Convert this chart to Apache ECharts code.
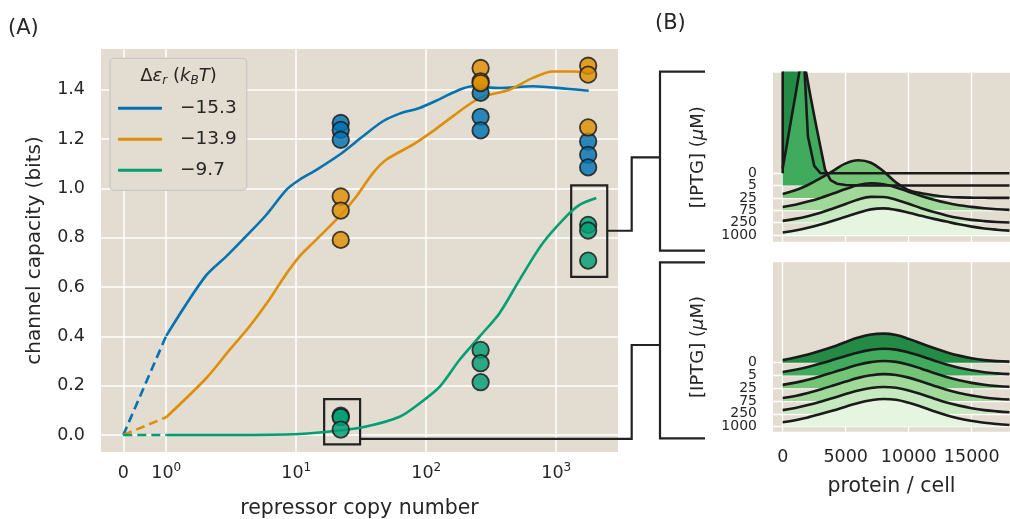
<!DOCTYPE html>
<html>
<head>
<meta charset="utf-8">
<title>channel capacity</title>
<script src="https://cdn.jsdelivr.net/npm/echarts@6/dist/echarts.min.js"></script>
<style>
  html, body { margin: 0; padding: 0; background: #fff; }
  #main { width: 1010px; height: 519px; }
</style>
</head>
<body>
<div id="main"></div>
<script>
// ---- panel A: channel capacity vs repressor copy number ----
const repTicks = [0, 1, 10, 100, 1000]
const repTickLabels = ['{b|0}', '{b|10}{s|0}', '{b|10}{s|1}', '{b|10}{s|2}', '{b|10}{s|3}']
const capTicks = [0, 0.2, 0.4, 0.6, 0.8, 1.0, 1.2, 1.4]
const energies = ['\u221215.3', '\u221213.9', '\u22129.7']

const blueX = [1, 2.0, 2.9, 4.1, 5.9, 8.4, 10.6, 14.3, 21.5, 32.6, 46.4, 62.4, 88.9, 127, 180, 228, 366, 661, 1194, 1776]
const blueY = [0.402, 0.643, 0.724, 0.805, 0.893, 0.994, 1.035, 1.075, 1.136, 1.211, 1.272, 1.303, 1.326, 1.362, 1.400, 1.414, 1.407, 1.414, 1.404, 1.396]
const orangeX = [1, 2.03, 3.07, 4.37, 6.2, 8.1, 10.6, 13.4, 21.5, 29, 38.9, 49.2, 78.9, 112, 160, 257, 437, 661, 942, 1343, 1776]
const orangeY = [0.072, 0.23, 0.345, 0.44, 0.548, 0.642, 0.724, 0.778, 0.886, 0.967, 1.062, 1.116, 1.177, 1.231, 1.292, 1.366, 1.40, 1.448, 1.474, 1.474, 1.468]
const greenX = [1, 3.25, 10.6, 21.5, 34.5, 62.4, 88.9, 127, 180, 257, 366, 522, 789, 1194, 1511, 2032]
const greenY = [0, 0, 0.004, 0.018, 0.034, 0.074, 0.128, 0.196, 0.304, 0.399, 0.494, 0.629, 0.778, 0.886, 0.933, 0.961]

// experimental repressor copy numbers and measured capacities
const sampleX = [22, 262, 1760]
const blueDots = [[1.265, 1.237, 1.197], [1.387, 1.29, 1.235], [1.19, 1.136, 1.085]]
const orangeDots = [[0.967, 0.91, 0.791], [1.488, 1.434, 1.427], [1.497, 1.461, 1.247]]
const greenDots = [[0.078, 0.072, 0.022], [0.345, 0.291, 0.214], [0.852, 0.829, 0.707]]

// highlight boxes (copy number range, capacity range)
const boxes = [[16.4, 31, -0.038, 0.145], [1303, 2467, 0.641, 1.012]]

// ---- panel B: protein distributions per IPTG ----
const iptg = ['0', '5', '25', '75', '250', '1000']
const proteinX = [0, 1000, 2000, 3000, 4000, 5000, 6000, 7000, 8000, 9000, 10000, 11000, 12000, 13000, 14000, 15000, 16000, 17000, 18000]

const top0X = [0, 0, 1300, 1500, 1700, 2000, 2500, 3000, 18000]
const top0Y = [0, 30, 30, 20, 9, 3, 0.6, 0, 0]
const top5X = [0, 330, 660, 990, 1320, 1600, 1850, 2230, 2610, 3000, 3360, 3800, 4300, 5000, 6000, 18000]
const top5Y = [1.4, 3.3, 5.3, 7.2, 9.2, 11, 9.2, 7.1, 5.1, 3.1, 1.3, 0.45, 0.15, 0.05, 0, 0]
const top25 = [0.32, 0.62, 1.05, 1.6, 2.2, 2.8, 3.05, 2.85, 2.15, 1.25, 0.62, 0.38, 0.22, 0.1, 0.04, 0.02, 0.01, 0, 0]
const top75 = [0.27, 0.45, 0.7, 1.0, 1.35, 1.72, 2.05, 2.19, 2.1, 1.85, 1.5, 1.15, 0.85, 0.6, 0.4, 0.27, 0.16, 0.08, 0.03]
const top250 = [0.14, 0.3, 0.52, 0.8, 1.14, 1.5, 1.88, 2.08, 2.07, 1.85, 1.52, 1.17, 0.85, 0.58, 0.37, 0.22, 0.12, 0.05, 0.01]
const top1000 = [0.19, 0.36, 0.58, 0.85, 1.15, 1.48, 1.8, 2.07, 2.15, 2.03, 1.8, 1.55, 1.3, 1.08, 0.86, 0.67, 0.52, 0.42, 0.35]

const bot0 = [0.21, 0.4, 0.64, 0.93, 1.25, 1.62, 1.96, 2.2, 2.27, 2.16, 1.86, 1.5, 1.14, 0.82, 0.55, 0.34, 0.2, 0.12, 0.08]
const bot5 = [0.27, 0.44, 0.66, 0.93, 1.22, 1.52, 1.8, 2.0, 2.09, 2.02, 1.8, 1.5, 1.17, 0.86, 0.6, 0.4, 0.25, 0.16, 0.1]
const bot25 = [0.26, 0.44, 0.67, 0.94, 1.24, 1.55, 1.84, 2.04, 2.13, 2.06, 1.84, 1.53, 1.19, 0.88, 0.62, 0.42, 0.27, 0.17, 0.11]
const bot75 = [0.23, 0.4, 0.63, 0.91, 1.21, 1.52, 1.81, 2.01, 2.1, 2.04, 1.83, 1.53, 1.2, 0.89, 0.63, 0.43, 0.28, 0.18, 0.12]
const bot250 = [0.29, 0.46, 0.68, 0.95, 1.24, 1.54, 1.82, 2.02, 2.1, 2.04, 1.83, 1.53, 1.2, 0.89, 0.64, 0.44, 0.29, 0.19, 0.12]
const bot1000 = [0.34, 0.5, 0.72, 0.98, 1.26, 1.56, 1.85, 2.06, 2.16, 2.1, 1.86, 1.55, 1.2, 0.88, 0.63, 0.45, 0.3, 0.2, 0.13]
const proteinTicks = [0, 5000, 10000, 15000]

const BG = '#e3dcd0'
const INK = '#262626'
const FONT = 'DejaVu Sans'
const colors = ['#0173b2', '#de8f05', '#029e73']
const greens = ['#238b45', '#41ab5d', '#74c476', '#a1d99b', '#c7e9c0', '#e5f5e0']

// symlog-like x scale: linear 0..1, log above 1
const LIN = 0.33
const tx = x => x <= 1 ? x * LIN : LIN + Math.log10(x)

const chart = echarts.init(document.getElementById('main'))

const curveX = [blueX, orangeX, greenX]
const curveY = [blueY, orangeY, greenY]
const dots = [blueDots, orangeDots, greenDots]

const series = []
curveX.forEach((xs, i) => {
	series.push({
		name: energies[i] + ' extrap',
		type: 'line', xAxisIndex: 0, yAxisIndex: 0,
		showSymbol: false, color: colors[i],
		lineStyle: { width: 2.6, type: [9, 5] },
		data: [[tx(0), 0], [tx(xs[0]), curveY[i][0]]],
		z: 3
	})
	series.push({
		name: energies[i],
		type: 'line', xAxisIndex: 0, yAxisIndex: 0,
		showSymbol: false, color: colors[i], smooth: 0.3,
		lineStyle: { width: 2.6 },
		data: xs.map((x, j) => [tx(x), curveY[i][j]]),
		z: 3
	})
})
dots.forEach((d, i) => {
	const pts = []
	d.forEach((vals, k) => vals.forEach(v => pts.push([tx(sampleX[k]), v])))
	const s = {
		name: energies[i] + ' data',
		type: 'scatter', xAxisIndex: 0, yAxisIndex: 0,
		symbolSize: 16.5,
		itemStyle: { color: colors[i], opacity: 0.82, borderColor: '#1a1a1a', borderWidth: 1.8 },
		data: pts,
		z: 4
	}
	if (i === 2) {
		s.markArea = {
			silent: true,
			itemStyle: { color: 'rgba(0,0,0,0)', borderColor: '#222', borderWidth: 2.2 },
			data: boxes.map(b => [{ coord: [tx(b[0]), b[2]] }, { coord: [tx(b[1]), b[3]] }])
		}
	}
	series.push(s)
})

// ridge plots
const topSets = [
	top0X.map((x, j) => [x, top0Y[j]]),
	top5X.map((x, j) => [x, top5Y[j]]),
	proteinX.map((x, j) => [x, top25[j]]),
	proteinX.map((x, j) => [x, top75[j]]),
	proteinX.map((x, j) => [x, top250[j]]),
	proteinX.map((x, j) => [x, top1000[j]])
]
const botSets = [bot0, bot5, bot25, bot75, bot250, bot1000].map(h => proteinX.map((x, j) => [x, h[j]]))

function ridge(sets, axisIdx, sharp) {
	sets.forEach((pts, k) => {
		const base = 5 - k
		series.push({
			name: 'IPTG ' + iptg[k] + ' / ' + axisIdx,
			type: 'line', xAxisIndex: axisIdx, yAxisIndex: axisIdx,
			showSymbol: false,
			smooth: sharp && k < 2 ? false : 0.4,
			lineStyle: { color: '#1a1a1a', width: 2.6 },
			areaStyle: { color: greens[k], opacity: 1, origin: base },
			data: pts.map(p => [p[0], base + p[1]])
		})
	})
}
ridge(topSets, 1, true)
ridge(botSets, 2, false)

// IPTG labels are split over stacked axes so none get dropped as overlapping
const iptgAxis = (idx, min, max, labelVals, main) => ({
	type: 'value', gridIndex: idx, min: min, max: max, position: 'left', offset: 0,
	axisLine: { show: false },
	axisTick: { show: false, customValues: main ? [0, 1, 2, 3, 4, 5] : labelVals },
	axisLabel: {
		customValues: labelVals,
		showMinLabel: true, showMaxLabel: true, hideOverlap: false,
		formatter: v => iptg[5 - Math.round(v)],
		fontSize: 14, color: INK, margin: 16, fontFamily: FONT
	},
	splitLine: { show: main, lineStyle: { color: '#fff', width: 1.3 } },
	name: main ? '[IPTG] ({i|\u03bc}M)' : '', nameLocation: 'middle', nameRotate: 90, nameGap: 66,
	nameTextStyle: { fontSize: 18, color: INK, fontFamily: FONT, rich: { i: { fontSize: 18, fontStyle: 'italic', color: INK, fontFamily: FONT } } }
})
const proteinAxis = (idx, labels) => ({
	type: 'value', gridIndex: idx, min: -770, max: 18040,
	axisLine: { show: false },
	axisTick: { show: false, customValues: proteinTicks },
	axisLabel: {
		show: labels, customValues: proteinTicks, formatter: v => String(v),
		showMinLabel: true, showMaxLabel: true, hideOverlap: false,
		fontSize: 17.5, color: INK, margin: 17, fontFamily: FONT
	},
	splitLine: { lineStyle: { color: '#fff', width: 1.3 } },
	name: labels ? 'protein / cell' : '', nameLocation: 'middle', nameGap: 44,
	nameTextStyle: { fontSize: 20.5, color: INK, fontFamily: FONT }
})

const gridBase = { show: true, backgroundColor: BG, borderWidth: 0, outerBoundsMode: 'none', containLabel: false }

chart.setOption({
	animation: false,
	textStyle: { fontFamily: FONT, color: INK },
	grid: [
		Object.assign({ left: 101, top: 49, width: 517, height: 403 }, gridBase),
		Object.assign({ left: 773, top: 72.7, width: 237, height: 169 }, gridBase),
		Object.assign({ left: 773, top: 262.3, width: 237, height: 169.4 }, gridBase)
	],
	xAxis: [
		{
			type: 'value', gridIndex: 0, min: -0.1715, max: 3.805,
			axisLine: { show: false },
			axisTick: { show: false, customValues: repTicks.map(tx) },
			axisLabel: {
				customValues: repTicks.map(tx),
				showMinLabel: true, showMaxLabel: true, hideOverlap: false,
				formatter: v => repTickLabels[repTicks.findIndex(t => Math.abs(tx(t) - v) < 1e-6)],
				margin: 10,
				rich: {
					b: { fontSize: 17.5, lineHeight: 22, color: INK, fontFamily: FONT },
					s: { fontSize: 12, lineHeight: 10, verticalAlign: 'top', color: INK, fontFamily: FONT }
				}
			},
			splitLine: { lineStyle: { color: '#fff', width: 1.5 } },
			name: 'repressor copy number', nameLocation: 'middle', nameGap: 46,
			nameTextStyle: { fontSize: 20.5, color: INK, fontFamily: FONT }
		},
		proteinAxis(1, false),
		proteinAxis(2, true)
	],
	yAxis: [
		{
			type: 'value', gridIndex: 0, min: -0.069, max: 1.565,
			axisLine: { show: false },
			axisTick: { show: false, customValues: capTicks },
			axisLabel: {
				customValues: capTicks, showMinLabel: true, showMaxLabel: true,
				formatter: v => v.toFixed(1), fontSize: 17.5, color: INK, margin: 16, fontFamily: FONT
			},
			splitLine: { lineStyle: { color: '#fff', width: 1.5 } },
			name: 'channel capacity (bits)', nameLocation: 'middle', nameRotate: 90, nameGap: 56,
			nameTextStyle: { fontSize: 20, color: INK, fontFamily: FONT }
		},
		iptgAxis(1, -0.55, 13.15, [0, 2, 3, 5], true),
		iptgAxis(2, -0.4, 12.85, [0, 2, 3, 5], true),
		iptgAxis(1, -0.55, 13.15, [1], false),
		iptgAxis(2, -0.4, 12.85, [1], false),
		iptgAxis(1, -0.55, 13.15, [4], false),
		iptgAxis(2, -0.4, 12.85, [4], false)
	],
	legend: {
		data: energies,
		orient: 'vertical', left: 110, top: 58.3,
		icon: 'roundRect', itemWidth: 44, itemHeight: 3, itemGap: 11,
		padding: [40, 10, 10, 8],
		backgroundColor: BG, borderColor: '#c8c8c8', borderWidth: 1.3, borderRadius: 4,
		selectedMode: false,
		textStyle: { fontSize: 18.5, lineHeight: 20, color: INK, padding: [0, 0, 0, 13], fontFamily: FONT }
	},
	series: series
})

// annotations: panel letters, legend title, brackets and connectors
const px = (x, y) => chart.convertToPixel({ xAxisIndex: 0, yAxisIndex: 0 }, [tx(x), y])
const c1 = px(boxes[1][1], 0.828)
const c0 = px(boxes[0][1], -0.016)
const lineStyle = { stroke: '#222', lineWidth: 2.2, fill: null }
chart.setOption({
	graphic: [
		{ type: 'text', x: 8, y: 18, z: 100, style: { text: '(A)', fontSize: 21, fontFamily: FONT, fill: INK } },
		{ type: 'text', x: 655, y: 13, z: 100, style: { text: '(B)', fontSize: 21, fontFamily: FONT, fill: INK } },
		{
			type: 'text', x: 178.5, y: 76, z: 100,
			style: {
				text: '{n|\u0394}{i|\u03b5}{sub|r}{n| (}{i|k}{sub|B}{i|T}{n|)}',
				align: 'center', verticalAlign: 'middle', fill: INK,
				rich: {
					n: { fontSize: 18, lineHeight: 22, fontFamily: FONT, fill: INK },
					i: { fontSize: 18, lineHeight: 22, fontStyle: 'italic', fontFamily: FONT, fill: INK },
					sub: { fontSize: 12, lineHeight: 11, verticalAlign: 'bottom', fontStyle: 'italic', fontFamily: FONT, fill: INK }
				}
			}
		},
		{ type: 'polyline', z: 100, shape: { points: [[705, 71.7], [660, 71.7], [660, 250.7], [705, 250.7]] }, style: lineStyle },
		{ type: 'polyline', z: 100, shape: { points: [[705, 262.3], [660, 262.3], [660, 438.3], [705, 438.3]] }, style: lineStyle },
		{ type: 'polyline', z: 100, shape: { points: [c1, [631.7, c1[1]], [631.7, 157.3], [660, 157.3]] }, style: lineStyle },
		{ type: 'polyline', z: 100, shape: { points: [c0, [631.7, c0[1]], [631.7, 345], [660, 345]] }, style: lineStyle }
	]
})
</script>
</body>
</html>
